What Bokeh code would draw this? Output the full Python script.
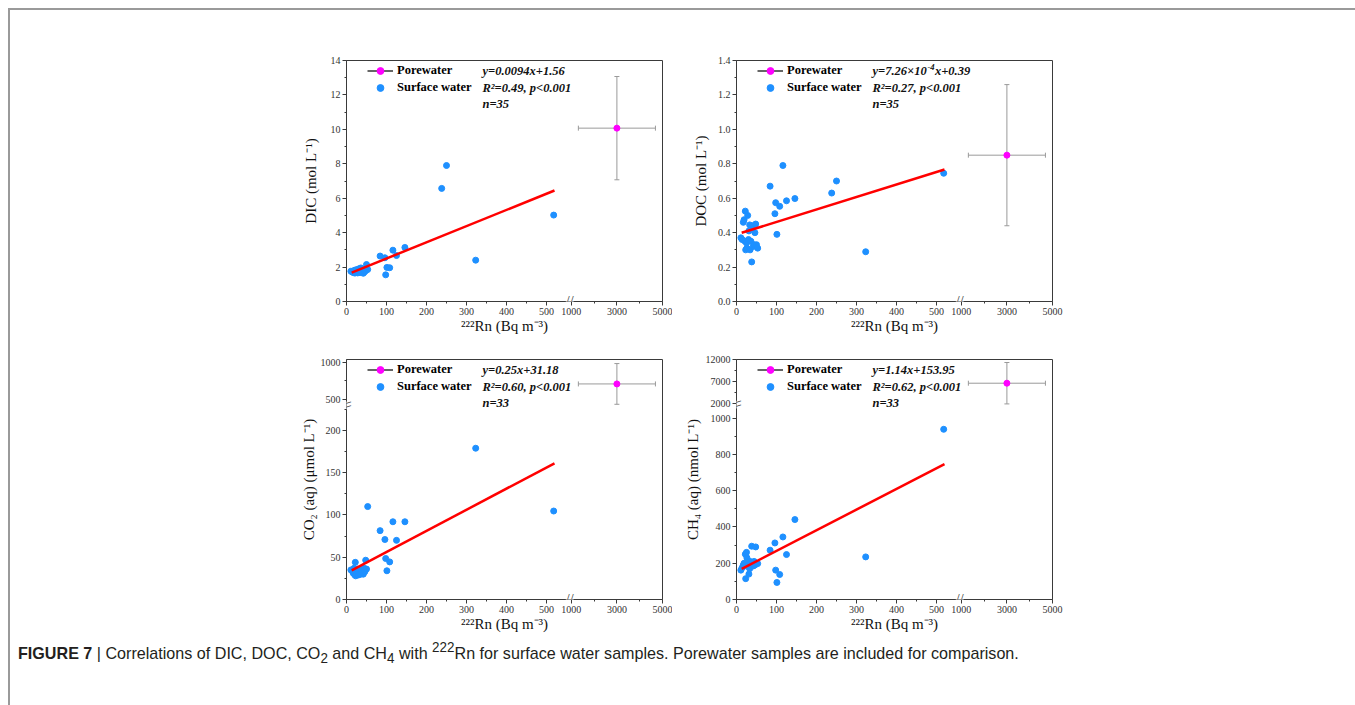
import math
from bokeh.plotting import figure
from bokeh.models import (FixedTicker, Label, Legend, LegendItem, CustomJSTransform,
                          Div, Range1d, ColumnDataSource)
from bokeh.layouts import column, row
from bokeh.transform import transform
from bokeh.embed import file_html
from bokeh.resources import INLINE

# ---------------- data ----------------
rn = [11, 14, 17, 19, 21, 22, 23, 25, 26, 28, 30, 31, 33, 34, 36, 38, 40, 42, 44, 46, 48, 50, 53,
      84, 96, 98, 101, 108, 116, 125, 146, 238, 250, 323, 518]
dic = [1.76, 1.72, 1.68, 1.80, 1.65, 1.83, 1.70, 1.74, 1.85, 1.66, 1.78, 1.90, 1.72, 1.68, 1.95,
       1.75, 1.82, 1.64, 1.70, 1.88, 1.78, 2.15, 1.86,
       2.64, 2.54, 1.55, 1.98, 1.96, 2.98, 2.67, 3.14, 6.57, 7.90, 2.40, 5.02]
doc = [0.37, 0.36, 0.46, 0.475, 0.35, 0.525, 0.30, 0.34, 0.31, 0.50, 0.36, 0.41, 0.445, 0.30, 0.35,
       0.23, 0.44, 0.32, 0.33, 0.40, 0.45, 0.33, 0.31,
       0.67, 0.51, 0.574, 0.39, 0.553, 0.79, 0.585, 0.598, 0.63, 0.70, 0.289, 0.745]
rn_gas = [11, 14, 17, 19, 21, 22, 23, 25, 26, 28, 30, 31, 33, 34, 36, 38, 40, 42, 44, 46, 48, 50, 53,
          84, 96, 98, 101, 108, 116, 125, 146, 323, 518]
co2 = [35, 34, 31, 37, 29, 44, 28, 32, 30, 36, 29, 33, 31, 35, 30, 34, 32, 30, 37, 33, 46.5, 36, 110,
       81.5, 71, 48.5, 34, 44.5, 92, 70, 92, 179, 104.7]
ch4 = [162, 175, 190, 200, 185, 250, 115, 260, 230, 205, 180, 140, 170, 210, 195, 294, 200, 185,
       210, 190, 290, 200, 198,
       272, 312, 162, 94, 138, 345, 248, 441, 235, 939]

pw_rn, pw_rn_err = [3000], [1690]
pw_dic, pw_dic_err = [10.07], [3.0]
pw_doc, pw_doc_err = [0.85], [0.41]
pw_co2, pw_co2_err = [710], [275]
pw_ch4, pw_ch4_err = [6700], [4700]

fit_rn = [13, 520]
dic_fit = [1.68, 6.45]
doc_fit = [0.399, 0.767]
co2_fit = [34.4, 161.2]
ch4_fit = [168.8, 746.8]

x_major = [0, 100, 200, 300, 400, 500, 1000, 3000, 5000]
x_minor = [50, 150, 250, 350, 450, 2000, 4000]
dic_major = [0, 2, 4, 6, 8, 10, 12, 14]
dic_minor = [1, 3, 5, 7, 9, 11, 13]
doc_major = [0.0, 0.2, 0.4, 0.6, 0.8, 1.0, 1.2, 1.4]
doc_minor = [0.1, 0.3, 0.5, 0.7, 0.9, 1.1, 1.3]
co2_major = [0, 50, 100, 150, 200, 500, 1000]
co2_minor = [25, 75, 125, 175, 225, 750]
ch4_major = [0, 200, 400, 600, 800, 1000, 2000, 7000, 12000]
ch4_minor = [100, 300, 500, 700, 900, 4500, 9500]

# equation lines; a tuple is (text, superscript, text)
eq_dic = ["y=0.0094x+1.56", "R²=0.49, p<0.001", "n=35"]
eq_doc = [("y=7.26×10", "-4", "x+0.39"), "R²=0.27, p<0.001", "n=35"]
eq_co2 = ["y=0.25x+31.18", "R²=0.60, p<0.001", "n=33"]
eq_ch4 = ["y=1.14x+153.95", "R²=0.62, p<0.001", "n=33"]

# ---------------- style ----------------
BLUE = "#1E90FF"
MAGENTA = "#FF00FF"
SERIF = "Liberation Serif"
AX = "#3a3a3a"

# broken-axis scale parameters: values below cut are linear, above: p + (v - a) * k
XB = (800, 1000, 562, 0.057)
YB_CO2 = (300, 500, 236.7, 0.0876)
YB_CH4 = (1500, 2000, 1079, 0.0243)


def js_tf(par):
    cut, a, p, k = par
    return CustomJSTransform(
        args=dict(cut=cut, a=a, p=p, k=k),
        func="return x < cut ? x : p + (x - a) * k;",
        v_func="return xs.map((v) => v < cut ? v : p + (v - a) * k);")


def py_map(par, v):
    if par is None:
        return v
    cut, a, p, k = par
    return v if v < cut else round(p + (v - a) * k, 3)


def fld(name, tf):
    return transform(name, tf) if tf is not None else name


def fmt(v):
    if isinstance(v, float):
        return f"{v:.1f}"
    return str(v)


def eq_label(x, y, t, size="12.5px"):
    return Label(x=x, y=y, x_units="screen", y_units="screen",
                 text=t, text_font=SERIF, text_font_style="bold italic",
                 text_font_size=size, text_color="#111111",
                 text_baseline="middle", text_align="left")


def build(xs, ys, pwy, pwye, fity, ymax_mapped, ymaj, ymin, ypar, ylabel, eq,
          L, R, T, B, fh, ylab_stand, ybreak):
    fw = 316
    p = figure(width=L + fw + R, height=T + fh + B, title=None,
               x_range=Range1d(0, 790), y_range=Range1d(0, ymax_mapped),
               output_backend="svg", toolbar_location=None,
               min_border_left=L, min_border_right=R, min_border_top=T, min_border_bottom=B)
    p.xgrid.visible = False
    p.ygrid.visible = False
    p.outline_line_color = AX
    p.outline_line_width = 1
    p.background_fill_color = "white"
    p.border_fill_color = "white"

    tfx = js_tf(XB)
    tfy = js_tf(ypar) if ypar is not None else None

    # axes ticks
    xt = [py_map(XB, v) for v in x_major]
    xm = [py_map(XB, v) for v in x_minor]
    p.xaxis.ticker = FixedTicker(ticks=xt, minor_ticks=xm)
    p.xaxis.major_label_overrides = {t: str(v) for t, v in zip(xt, x_major)}
    yt = [py_map(ypar, v) for v in ymaj]
    ym = [py_map(ypar, v) for v in ymin]
    p.yaxis.ticker = FixedTicker(ticks=yt, minor_ticks=ym)
    p.yaxis.major_label_overrides = {t: fmt(v) for t, v in zip(yt, ymaj)}

    for ax in (p.xaxis[0], p.yaxis[0]):
        ax.axis_line_color = AX
        ax.major_tick_line_color = AX
        ax.minor_tick_line_color = AX
        ax.major_tick_in = 0
        ax.major_tick_out = 4
        ax.minor_tick_in = 0
        ax.minor_tick_out = 2
        ax.major_label_text_font = SERIF
        ax.major_label_text_font_size = "10px"
        ax.major_label_text_color = "#333333"
        ax.major_label_standoff = 2
        ax.axis_label_text_font = SERIF
        ax.axis_label_text_font_size = "15px"
        ax.axis_label_text_font_style = "normal"
        ax.axis_label_text_color = "#111111"
    p.xaxis.axis_label = "²²²Rn (Bq m⁻³)"
    p.xaxis.axis_label_standoff = 0
    p.yaxis.axis_label = ylabel
    p.yaxis.axis_label_standoff = ylab_stand

    # sources
    sw = ColumnDataSource(dict(x=xs, y=ys))
    pw = ColumnDataSource(dict(
        x=pw_rn, y=pwy,
        xlo=[a - b for a, b in zip(pw_rn, pw_rn_err)],
        xhi=[a + b for a, b in zip(pw_rn, pw_rn_err)],
        ylo=[a - b for a, b in zip(pwy, pwye)],
        yhi=[a + b for a, b in zip(pwy, pwye)]))
    fit = ColumnDataSource(dict(x=fit_rn, y=fity))

    # error bars
    p.segment(x0=fld("xlo", tfx), y0=fld("y", tfy), x1=fld("xhi", tfx), y1=fld("y", tfy),
              source=pw, line_color="#9a9a9a", line_width=1)
    p.segment(x0=fld("x", tfx), y0=fld("ylo", tfy), x1=fld("x", tfx), y1=fld("yhi", tfy),
              source=pw, line_color="#9a9a9a", line_width=1)
    for cx, cy, ang in (("xlo", "y", math.pi / 2), ("xhi", "y", math.pi / 2),
                        ("x", "ylo", 0), ("x", "yhi", 0)):
        p.scatter(x=fld(cx, tfx), y=fld(cy, tfy), source=pw, marker="dash", size=5,
                  angle=ang, line_color="#9a9a9a", line_width=1)

    r_sw = p.scatter(x=fld("x", tfx), y=fld("y", tfy), source=sw, size=6,
                     fill_color=BLUE, line_color=BLUE)
    p.line(x=fld("x", tfx), y=fld("y", tfy), source=fit, line_color="#FF0000", line_width=2.5)
    r_pwline = p.line(x=fld("x", tfx), y=fld("y", tfy), source=pw, line_color="#333333",
                      line_width=1.5)
    r_pw = p.scatter(x=fld("x", tfx), y=fld("y", tfy), source=pw, size=6,
                     fill_color=MAGENTA, line_color=MAGENTA)

    legend = Legend(items=[LegendItem(label="Porewater", renderers=[r_pwline, r_pw]),
                           LegendItem(label="Surface water", renderers=[r_sw])],
                    location=(21, fh - 36), padding=0, margin=0, spacing=0,
                    glyph_width=26, glyph_height=17, label_height=17, label_standoff=4,
                    border_line_color=None, background_fill_alpha=0,
                    label_text_font=SERIF, label_text_font_style="bold",
                    label_text_font_size="12.5px", label_text_color="black")
    p.add_layout(legend)

    for i, t in enumerate(eq):
        y = fh - [10.5, 27, 43][i]
        if isinstance(t, tuple):
            p.add_layout(eq_label(136, y, t[0]))
            p.add_layout(eq_label(191, y + 4, t[1], "8.5px"))
            p.add_layout(eq_label(198.5, y, t[2]))
        else:
            p.add_layout(eq_label(136, y, t))

    # axis break marks
    p.add_layout(Label(x=558, y=0, text="//", text_font=SERIF, text_font_size="14px",
                       text_align="center", text_baseline="middle", text_color=AX,
                       background_fill_color="white"))
    if ybreak is not None:
        p.add_layout(Label(x=0, y=ybreak, text="\\\\", text_font=SERIF, text_font_size="14px",
                           angle=math.pi / 2, text_align="center", text_baseline="middle",
                           text_color=AX, background_fill_color="white"))
    return p


p1 = build(rn, dic, pw_dic, pw_dic_err, dic_fit, 14, dic_major, dic_minor, None,
           "DIC (mol L⁻¹)", eq_dic, 336, 10, 50, 50, 241, 9, None)
p2 = build(rn, doc, pw_doc, pw_doc_err, doc_fit, 1.4, doc_major, doc_minor, None,
           "DOC (mol L⁻¹)", eq_doc, 64, 301, 50, 50, 241, 6, None)
p3 = build(rn_gas, co2, pw_co2, pw_co2_err, co2_fit, 284, co2_major, co2_minor, YB_CO2,
           "CO₂ (aq) (μmol L⁻¹)", eq_co2, 336, 10, 8, 45, 240, 1, 229.6)
p4 = build(rn_gas, ch4, pw_ch4, pw_ch4_err, ch4_fit, 1324, ch4_major, ch4_minor, YB_CH4,
           "CH₄ (aq) (nmol L⁻¹)", eq_ch4, 64, 301, 8, 45, 240, 2, 1075.6)

caption = Div(
    text=('<div style="position:relative; left:3px; top:-12px; '
          "font-family:'Liberation Sans',Arial,sans-serif; "
          'font-size:17px; line-height:20px; color:#231f20; white-space:nowrap; '
          'transform:scaleX(0.948); transform-origin:left center;">'
          '<b>FIGURE 7</b> | Correlations of DIC, DOC, CO<sub>2</sub> and CH<sub>4</sub> '
          'with <sup>222</sup>Rn for surface water samples. Porewater samples are included '
          'for comparison.</div>'),
    width=1343, height=58)

layout = column(row(p1, p2), row(p3, p4), caption, margin=(8, 0, 0, 8),
                styles={"border-left": "2px solid #9a9a9a",
                        "border-top": "2px solid #9a9a9a",
                        "border-right": "2px solid #9a9a9a"})

open("out.html", "w").write(file_html(layout, INLINE))
